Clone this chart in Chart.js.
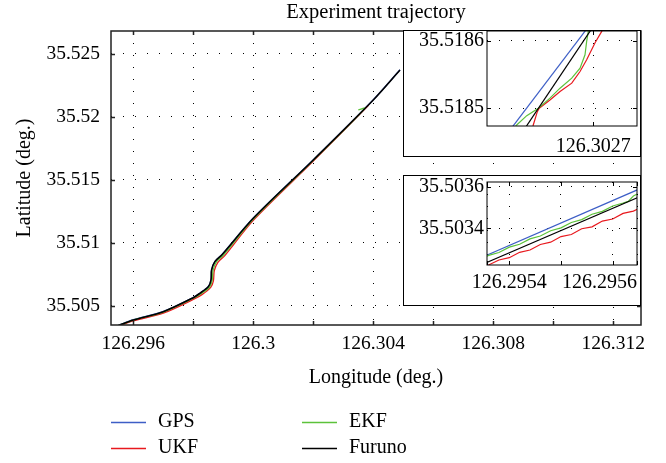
<!doctype html>
<html>
<head>
<meta charset="utf-8">
<script src="https://cdn.jsdelivr.net/npm/chart.js"></script>
<style>
  body { margin: 0; background: #fff; }
  #wrap { position: relative; width: 666px; height: 463px; }
  canvas { position: absolute; }
  #main { left: 0; top: 0; }
  #zoomA { left: 403px; top: 30px; }
  #zoomB { left: 403px; top: 175px; }
</style>
</head>
<body>
<div id="wrap">
  <canvas id="main" width="666" height="463"></canvas>
  <canvas id="zoomA" width="238" height="127"></canvas>
  <canvas id="zoomB" width="238" height="131"></canvas>
</div>
<script>
// series, legend order is column by column
const seriesNames = ['GPS', 'UKF', 'EKF', 'Furuno'];
const seriesColors = ['#3d5ec6', '#e8191e', '#5cc23a', '#000000'];
const drawOrder = [3, 2, 1, 0];   // Furuno on top

// full trajectory  [longitude, latitude]
const gpsTrack = [[126.29550, 35.50346], [126.29600, 35.50391], [126.29700, 35.50457], [126.29800, 35.50568],
  [126.29822, 35.50603], [126.29850, 35.50655], [126.29859, 35.50708], [126.29861, 35.50788], [126.29872, 35.50854],
  [126.29895, 35.50907], [126.30000, 35.51198], [126.30200, 35.51661], [126.30400, 35.52137], [126.30489, 35.52375]];
const ukfTrack = [[126.29550, 35.50339], [126.29600, 35.50382], [126.29700, 35.50443], [126.29800, 35.50552],
  [126.29830, 35.50592], [126.29858, 35.50648], [126.29867, 35.50700], [126.29870, 35.50780], [126.29882, 35.50846],
  [126.29905, 35.50900], [126.30000, 35.51180], [126.30200, 35.51650], [126.30384, 35.52093]];
const ekfTrack = [[126.29550, 35.50345], [126.29600, 35.50388], [126.29700, 35.50452], [126.29800, 35.50562],
  [126.29826, 35.50598], [126.29854, 35.50651], [126.29863, 35.50704], [126.29866, 35.50784], [126.29877, 35.50850],
  [126.29900, 35.50903], [126.30000, 35.51190], [126.30200, 35.51656], [126.30372, 35.52068], [126.30350, 35.52056]];
const furunoTrack = [[126.29550, 35.50344], [126.29600, 35.50389], [126.29700, 35.50455], [126.29800, 35.50566],
  [126.29822, 35.50601], [126.29850, 35.50653], [126.29859, 35.50706], [126.29861, 35.50786], [126.29872, 35.50852],
  [126.29895, 35.50905], [126.30000, 35.51196], [126.30200, 35.51659], [126.30400, 35.52135], [126.30489, 35.52373]];

// upper zoom (around 126.3027, 35.5185)
const gpsZoomA = [[126.3026341, 35.5184663], [126.3026974, 35.5186238]];
const ukfZoomA = [[126.3026519, 35.5184663], [126.3026529, 35.5184752], [126.3026561, 35.5184949], [126.3026576, 35.5185000],
  [126.3026660, 35.5185123], [126.3026739, 35.5185247], [126.3026831, 35.5185372], [126.3026896, 35.5185544],
  [126.3026948, 35.5185718], [126.3027013, 35.5185966], [126.3027066, 35.5186138], [126.3027084, 35.5186238]];
const ekfZoomA = [[126.3026362, 35.5184663], [126.3026399, 35.5184752], [126.3026478, 35.5184890], [126.3026569, 35.5185000],
  [126.3026660, 35.5185149], [126.3026739, 35.5185297], [126.3026831, 35.5185446], [126.3026896, 35.5185594],
  [126.3026935, 35.5185792], [126.3026948, 35.5185990], [126.3026961, 35.5186138], [126.3026970, 35.5186238]];
const furunoZoomA = [[126.3026446, 35.5184652], [126.3027009, 35.5186238]];

// lower zoom (around 126.2955, 35.5034)
const gpsZoomB = [[126.2953433, 35.5032556], [126.2956624, 35.5036019]];
const ukfZoomB = [[126.29534, 35.5032040], [126.29536, 35.5032230], [126.29538, 35.5032470], [126.29540, 35.5032580],
  [126.29542, 35.5032840], [126.29544, 35.5032950], [126.29546, 35.5033220], [126.29548, 35.5033330],
  [126.29550, 35.5033600], [126.29552, 35.5033700], [126.29554, 35.5033980], [126.29556, 35.5034070],
  [126.29558, 35.5034350], [126.29560, 35.5034450], [126.29562, 35.5034720], [126.29564, 35.5034830],
  [126.29566, 35.5035080]];
const ekfZoomB = [[126.29534, 35.5032470], [126.29536, 35.5032690], [126.29538, 35.5032830], [126.29540, 35.5033090],
  [126.29542, 35.5033230], [126.29544, 35.5033490], [126.29546, 35.5033630], [126.29548, 35.5033880],
  [126.29550, 35.5034020], [126.29552, 35.5034280], [126.29554, 35.5034420], [126.29556, 35.5034680],
  [126.29558, 35.5034820], [126.29560, 35.5035080], [126.29562, 35.5035220], [126.29563, 35.5035300],
  [126.29564, 35.5035560], [126.29567, 35.5035960]];
const furunoZoomB = [[126.2953433, 35.5032208], [126.2956624, 35.5035633]];

// axis limits, ticks and tick labels
const mainLon = [126.2952567, 126.3129233];
const mainLat = [35.503492, 35.5268254];
const mainLonTicks = [126.296, 126.298, 126.3, 126.302, 126.304, 126.306, 126.308, 126.31, 126.312];
const mainLonLabels = ['126.296', '', '126.3', '', '126.304', '', '126.308', '', '126.312'];
const mainLatTicks = [35.505, 35.51, 35.515, 35.52, 35.525];
const zoomALon = [126.3026166, 126.3027343];
const zoomALat = [35.5184737, 35.5186144];
const zoomALonTicks = [126.3027];
const zoomALatTicks = [35.5185, 35.5186];
const zoomBLon = [126.2953569, 126.2956470];
const zoomBLat = [35.5032227, 35.5036237];
// the last label sits against the right edge of the box, as in the figure
const zoomBLonTicks = [126.2953569, 126.2954, 126.2955, 126.2956, 126.2956470];
const zoomBLonLabels = ['', '126.2954', '', '', '126.2956'];
const zoomBLatTicks = [35.5034, 35.5036];

const serif = 'Liberation Serif';

const paper = {
  id: 'paper',
  beforeDraw(chart) {
    const c = chart.ctx;
    c.save(); c.fillStyle = '#fff'; c.fillRect(0, 0, chart.width, chart.height); c.restore();
  }
};

// box round the plot with inward tick marks (and outer box for the zooms)
const frame = {
  id: 'frame',
  afterDraw(chart, args, o) {
    const {ctx, chartArea: a, scales: {x, y}} = chart;
    ctx.save();
    if (o.outer) {
      ctx.strokeStyle = '#000'; ctx.lineWidth = 1;
      ctx.strokeRect(0.5, 0.5, chart.width - 1, chart.height - 1);
    }
    ctx.strokeStyle = o.color; ctx.lineWidth = o.width;
    ctx.beginPath();
    x.ticks.forEach(t => {
      const p = Math.round(x.getPixelForValue(t.value)) + 0.5;
      ctx.moveTo(p, a.bottom); ctx.lineTo(p, a.bottom - o.tick);
      ctx.moveTo(p, a.top); ctx.lineTo(p, a.top + o.tick);
    });
    y.ticks.forEach(t => {
      const p = Math.round(y.getPixelForValue(t.value)) + 0.5;
      ctx.moveTo(a.left, p); ctx.lineTo(a.left + o.tick, p);
      ctx.moveTo(a.right, p); ctx.lineTo(a.right - o.tick, p);
    });
    ctx.stroke();
    ctx.strokeRect(a.left, a.top, a.right - a.left, a.bottom - a.top);
    ctx.restore();
  }
};

// two column legend under the chart
const key = {
  id: 'key',
  afterDraw(chart, args, o) {
    const ctx = chart.ctx;
    ctx.save();
    ctx.font = o.font; ctx.textBaseline = 'middle'; ctx.fillStyle = '#000'; ctx.lineWidth = 1.3;
    chart.data.datasets.forEach((ds, i) => {
      const cx = o.cols[Math.floor(i / 2)], cy = o.rows[i % 2];
      ctx.strokeStyle = ds.borderColor;
      ctx.beginPath(); ctx.moveTo(cx, cy + 0.5); ctx.lineTo(cx + o.len, cy + 0.5); ctx.stroke();
      ctx.fillText(ds.label, cx + o.gap, cy);
    });
    ctx.restore();
  }
};

const fmt = v => String(+v.toFixed(7));

// keep the plot area where it is set: no extra room for overhanging labels
function noOverhang(s) {
  s.paddingTop = 0; s.paddingBottom = 0; s.paddingLeft = 0; s.paddingRight = 0;
}

function trajChart(id, tracks, o) {
  const plugins = [paper, frame];
  if (o.key) plugins.push(key);
  return new Chart(document.getElementById(id), {
    type: 'scatter',
    data: {
      datasets: tracks.map((t, i) => ({
        label: seriesNames[i],
        data: t.map(([x, y]) => ({x, y})),
        showLine: true,
        borderColor: seriesColors[i],
        backgroundColor: seriesColors[i],
        borderWidth: o.lineWidths[i],
        pointRadius: 0,
        tension: o.tension || 0,
        order: drawOrder[i]
      }))
    },
    options: {
      responsive: false,
      animation: false,
      events: [],
      layout: { padding: o.padding },
      plugins: {
        legend: { display: false },
        tooltip: { enabled: false },
        title: o.title || { display: false },
        frame: o.frame,
        key: o.key
      },
      scales: {
        x: {
          type: 'linear', min: o.lon[0], max: o.lon[1],
          afterBuildTicks: s => { s.ticks = o.lonTicks.map(v => ({value: v})); },
          afterFit: s => { s.height = o.xHeight; noOverhang(s); },
          ticks: {
            autoSkip: false, maxRotation: 0, minRotation: 0, padding: o.xPad, color: '#000',
            align: o.xAlign || 'center',
            font: { family: serif, size: o.tickSize },
            callback: (v, i) => o.lonLabels ? o.lonLabels[i] : fmt(v)
          },
          grid: { color: '#000', lineWidth: 1, drawTicks: false },
          border: { display: false, dash: [1, 11] },
          title: o.xTitle || { display: false }
        },
        y: {
          type: 'linear', min: o.lat[0], max: o.lat[1],
          afterBuildTicks: s => { s.ticks = o.latTicks.map(v => ({value: v})); },
          afterFit: s => { s.width = o.yWidth; noOverhang(s); },
          ticks: {
            autoSkip: false, padding: o.yPad, color: '#000',
            font: { family: serif, size: o.tickSize },
            callback: v => fmt(v)
          },
          grid: { color: '#000', lineWidth: 1, drawTicks: false },
          border: { display: false, dash: [1, 11] },
          title: o.yTitle || { display: false }
        }
      }
    },
    plugins: plugins
  });
}

trajChart('main', [gpsTrack, ukfTrack, ekfTrack, furunoTrack], {
  lon: mainLon, lat: mainLat, lonTicks: mainLonTicks, lonLabels: mainLonLabels, latTicks: mainLatTicks,
  lineWidths: [1.3, 1.3, 1.3, 1.6], tension: 0.3,
  padding: { top: 0, left: 0, right: 25, bottom: 70 },
  xHeight: 68, yWidth: 111, xPad: 7, yPad: 11, tickSize: 19.5,
  title: { display: true, text: 'Experiment trajectory', fullSize: false, color: '#000',
           font: { family: serif, size: 20.5, weight: 'normal' }, padding: { top: 0, bottom: 6.4 } },
  xTitle: { display: true, text: 'Longitude (deg.)', color: '#000',
            font: { family: serif, size: 20 }, padding: { top: 0, bottom: 3 } },
  yTitle: { display: true, text: 'Latitude (deg.)', color: '#000',
            font: { family: serif, size: 20 }, padding: { top: 13, bottom: 0 } },
  frame: { color: '#222', width: 1.5, tick: 4 },
  key: { font: '20px ' + serif, cols: [111, 302], rows: [422, 448], len: 35, gap: 47 }
});

trajChart('zoomA', [gpsZoomA, ukfZoomA, ekfZoomA, furunoZoomA], {
  lon: zoomALon, lat: zoomALat, lonTicks: zoomALonTicks, latTicks: zoomALatTicks,
  lineWidths: [1.2, 1.2, 1.2, 1.2],
  padding: { top: 1, left: 0, right: 4, bottom: 0 },
  xHeight: 31, yWidth: 84, xPad: 9, yPad: 3, tickSize: 20,
  frame: { color: '#000', width: 1, tick: 4, outer: true }
});

trajChart('zoomB', [gpsZoomB, ukfZoomB, ekfZoomB, furunoZoomB], {
  lon: zoomBLon, lat: zoomBLat, lonTicks: zoomBLonTicks, lonLabels: zoomBLonLabels, latTicks: zoomBLatTicks,
  lineWidths: [1.2, 1.2, 1.2, 1.2], xAlign: 'inner',
  padding: { top: 7, left: 0, right: 4, bottom: 0 },
  xHeight: 41, yWidth: 84, xPad: 6, yPad: 3, tickSize: 20,
  frame: { color: '#000', width: 1, tick: 4, outer: true }
});
</script>
</body>
</html>
